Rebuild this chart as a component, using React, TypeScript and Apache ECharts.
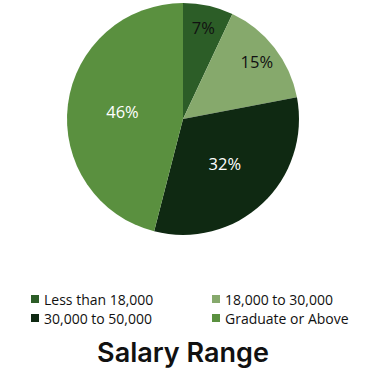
import React, { useEffect, useRef } from "react";
import * as echarts from "echarts";

const categories = ["Less than 18,000", "18,000 to 30,000", "30,000 to 50,000", "Graduate or Above"];
const values = [7, 15, 32, 46];
const colors = ["#2c5d27", "#86a96c", "#0f2912", "#5a903f"];
const labelColors = ["#111111", "#111111", "#ffffff", "#ffffff"];
const outerLabelSlices = [true, true, false, false];
const titleText = "Salary Range";

export default function App() {
  const ref = useRef<HTMLDivElement>(null);
  useEffect(() => {
    if (!ref.current) return;
    const chart = echarts.init(ref.current, null, { renderer: "svg" });
    const R = 116;
    const labelFont = { fontFamily: "Open Sans", fontSize: 16.5 };
    const legendText = { fontFamily: "Open Sans", fontSize: 14, lineHeight: 14, color: "#111111", padding: [0, 0, 0, 0] };
    chart.setOption({
      animation: false,
      backgroundColor: "#ffffff",
      title: {
        text: titleText,
        left: "center",
        top: 334,
        textStyle: { fontFamily: "Inter", fontWeight: 600, fontSize: 27, color: "#111111" },
      },
      legend: [
        {
          data: [categories[0], categories[2]],
          orient: "vertical",
          left: 26,
          top: 287,
          icon: "rect",
          itemWidth: 8,
          itemHeight: 8,
          itemGap: 5,
          selectedMode: false,
          textStyle: legendText,
        },
        {
          data: [categories[1], categories[3]],
          orient: "vertical",
          left: 207,
          top: 287,
          icon: "rect",
          itemWidth: 8,
          itemHeight: 8,
          itemGap: 5,
          selectedMode: false,
          textStyle: legendText,
        },
      ],
      series: [
        {
          type: "pie",
          center: [183, 119],
          radius: [0, R],
          startAngle: 90,
          clockwise: true,
          avoidLabelOverlap: false,
          labelLine: { show: false },
          data: categories.map((name, i) => ({
            name,
            value: values[i],
            itemStyle: { color: colors[i], borderWidth: 0 },
            label: {
              show: !outerLabelSlices[i],
              position: "inside",
              formatter: "{c}%",
              color: labelColors[i],
              ...labelFont,
            },
          })),
          emphasis: { disabled: true },
        },
        {
          type: "pie",
          center: [183, 119],
          radius: [R * 0.56, R],
          startAngle: 90,
          clockwise: true,
          silent: true,
          legendHoverLink: false,
          avoidLabelOverlap: false,
          labelLine: { show: false },
          data: categories.map((name, i) => ({
            name: name + " ",
            value: values[i],
            itemStyle: { color: "rgba(0,0,0,0)", borderWidth: 0 },
            label: {
              show: outerLabelSlices[i],
              position: "inside",
              formatter: "{c}%",
              color: labelColors[i],
              ...labelFont,
            },
          })),
          emphasis: { disabled: true },
        },
      ],
    });
    return () => chart.dispose();
  }, []);
  return <div ref={ref} style={{ position: "fixed", left: 0, top: 0, width: 366, height: 386 }} />;
}
